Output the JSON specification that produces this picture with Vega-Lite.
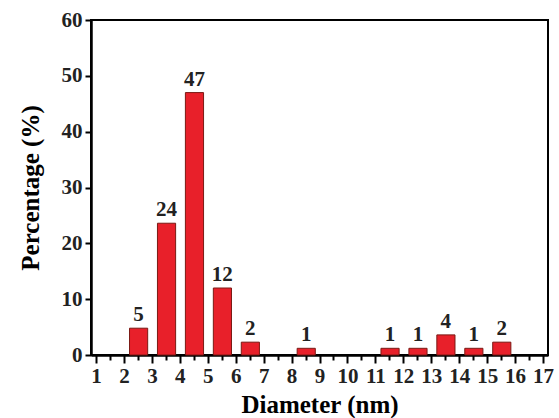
{
  "$schema": "https://vega.github.io/schema/vega-lite/v6.json",
  "width": 457,
  "height": 335,
  "autosize": "none",
  "padding": {"left": 91, "top": 20, "right": 11, "bottom": 63},
  "background": "white",
  "config": {
    "view": {"stroke": "black", "strokeWidth": 2},
    "font": "Liberation Serif"
  },
  "data": {
    "values": [
      {"start": 2.2, "end": 2.85, "pct": 4.8, "label": "5"},
      {"start": 3.2, "end": 3.85, "pct": 23.6, "label": "24"},
      {"start": 4.2, "end": 4.85, "pct": 47, "label": "47"},
      {"start": 5.2, "end": 5.85, "pct": 12, "label": "12"},
      {"start": 6.2, "end": 6.85, "pct": 2.3, "label": "2"},
      {"start": 8.2, "end": 8.85, "pct": 1.2, "label": "1"},
      {"start": 11.2, "end": 11.85, "pct": 1.2, "label": "1"},
      {"start": 12.2, "end": 12.85, "pct": 1.2, "label": "1"},
      {"start": 13.2, "end": 13.85, "pct": 3.6, "label": "4"},
      {"start": 14.2, "end": 14.85, "pct": 1.2, "label": "1"},
      {"start": 15.2, "end": 15.85, "pct": 2.3, "label": "2"}
    ]
  },
  "layer": [
    {
      "mark": {"type": "bar", "fill": "#e8202a", "stroke": "#7a1a14", "strokeWidth": 1, "orient": "vertical"},
      "encoding": {
        "x": {
          "field": "start", "type": "quantitative",
          "scale": {"domain": [1, 17], "nice": false, "zero": false},
          "axis": {
            "orient": "bottom",
            "values": [1,2,3,4,5,6,7,8,9,10,11,12,13,14,15,16,17],
            "title": "Diameter (nm)",
            "titleFont": "Liberation Serif", "titleFontSize": 25, "titleFontWeight": "bold",
            "titleColor": "black", "titlePadding": 6,
            "labelFont": "Liberation Serif", "labelFontSize": 21, "labelFontWeight": "bold",
            "labelColor": "#222", "labelPadding": 2,
            "domainColor": "black", "domainWidth": 2.5,
            "tickColor": "black", "tickWidth": 2, "tickSize": 8,
            "grid": false
          }
        },
        "x2": {"field": "end"},
        "y": {
          "field": "pct", "type": "quantitative",
          "scale": {"domain": [0, 60], "nice": false},
          "axis": {
            "values": [0, 10, 20, 30, 40, 50, 60],
            "title": "Percentage (%)",
            "titleFont": "Liberation Serif", "titleFontSize": 25, "titleFontWeight": "bold",
            "titleColor": "black", "titlePadding": 18,
            "labelFont": "Liberation Serif", "labelFontSize": 21, "labelFontWeight": "bold",
            "labelColor": "#222", "labelPadding": 3,
            "domainColor": "black", "domainWidth": 2.5,
            "tickColor": "black", "tickWidth": 2, "tickSize": 6,
            "grid": false
          }
        },
        "y2": {"datum": 0}
      }
    },
    {
      "mark": {"type": "text", "align": "center", "dx": 9, "dy": -13, "font": "Liberation Serif", "fontSize": 21, "fontWeight": "bold", "color": "#222"},
      "encoding": {
        "x": {
          "field": "start", "type": "quantitative",
          "axis": {
            "orient": "bottom",
            "values": [1.5,2.5,3.5,4.5,5.5,6.5,7.5,8.5,9.5,10.5,11.5,12.5,13.5,14.5,15.5,16.5],
            "labels": false, "title": null, "domain": false,
            "tickColor": "black", "tickWidth": 2, "tickSize": 5,
            "grid": false
          }
        },
        "y": {"field": "pct", "type": "quantitative"},
        "text": {"field": "label"}
      }
    }
  ],
  "resolve": {"axis": {"x": "independent"}}
}
